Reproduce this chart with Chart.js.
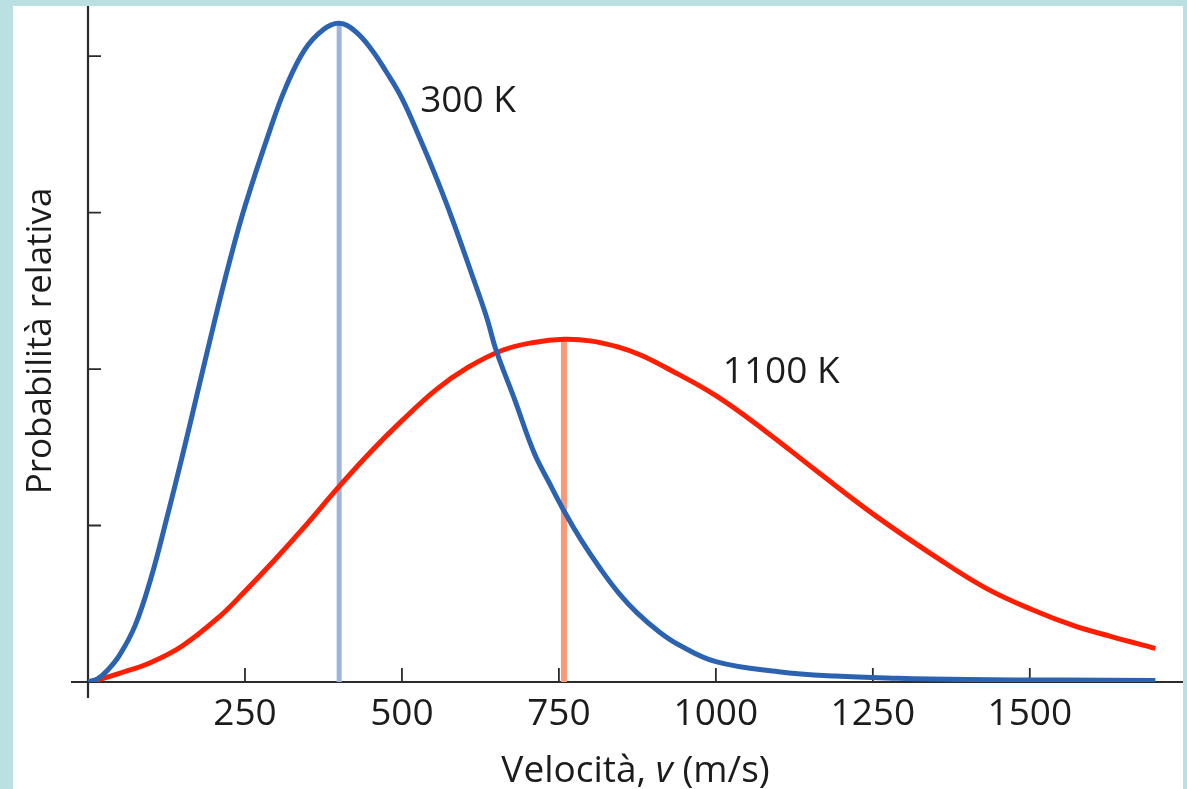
<!DOCTYPE html>
<html lang="it">
<head>
<meta charset="utf-8">
<title>Distribuzione delle velocità molecolari</title>
<script src="https://cdn.jsdelivr.net/npm/chart.js@4.4.1/dist/chart.umd.min.js"></script>
<style>
  html, body { margin: 0; padding: 0; background: #BBE0E3; }
  #wrap { width: 1187px; height: 789px; }
  canvas { display: block; }
</style>
</head>
<body>
<div id="wrap"><canvas id="chart" width="1187" height="789"></canvas></div>
<script>
// Speed distribution at 300 K (m/s → relative probability)
const speed300 = [0, 15, 30, 50, 75, 100, 125, 150, 175, 200, 225, 250, 290, 315, 345, 375, 400,
  425, 450, 475, 500, 530, 555, 580, 610, 635, 650, 680, 710, 735, 760, 785, 815, 845, 875, 910, 940,
  1000, 1100, 1190, 1290, 1400, 1550, 1700];
const prob300 = [0, 0.02, 0.07, 0.17, 0.36, 0.66, 1.04, 1.44, 1.86, 2.28, 2.68, 3.04, 3.53, 3.80, 4.04, 4.17, 4.21,
  4.16, 4.05, 3.90, 3.73, 3.46, 3.22, 2.96, 2.62, 2.33, 2.12, 1.80, 1.47, 1.27, 1.08, 0.91, 0.73, 0.57, 0.44, 0.32, 0.24,
  0.13, 0.066, 0.038, 0.024, 0.016, 0.012, 0.01];

// Speed distribution at 1100 K
const speed1100 = [0, 15, 50, 100, 150, 210, 250, 295, 340, 400, 450, 500, 555, 605, 660, 710, 758,
  800, 845, 880, 920, 1000, 1080, 1160, 1255, 1350, 1430, 1505, 1570, 1630, 1700];
const prob1100 = [0, 0.013, 0.055, 0.125, 0.23, 0.42, 0.58, 0.77, 0.97, 1.25, 1.47, 1.67, 1.87, 2.01, 2.12, 2.17, 2.19,
  2.18, 2.14, 2.09, 2.01, 1.83, 1.60, 1.35, 1.06, 0.80, 0.60, 0.46, 0.36, 0.29, 0.215];

// Most probable speed of each distribution and its height
const peakSpeed = [400, 758];
const peakProb = [4.21, 2.19];

// Axis ticks
const xTickValues = [250, 500, 750, 1000, 1250, 1500];
const yTickValues = [1, 2, 3, 4];

// Curve labels
const curveLabels = ['300 K', '1100 K'];
const labelSpeed = [529, 1011];
const labelProb = [3.64, 1.91];

const FONT = '"Open Sans", "Noto Sans", sans-serif';
const FONT_SIZE = 37;
const INK = '#1c1c1c';
const AXIS = '#2b2b2b';

const toPoints = (xs, ys) => xs.map((x, i) => ({ x, y: ys[i] }));

// White panel on the tinted background
const panelPlugin = {
  id: 'panel',
  beforeDraw(chart) {
    const ctx = chart.ctx;
    ctx.save();
    ctx.fillStyle = '#BBE0E3';
    ctx.fillRect(0, 0, chart.width, chart.height);
    ctx.fillStyle = '#ffffff';
    ctx.fillRect(13, 6, 1170, chart.height - 6);
    ctx.restore();
  }
};

// Axis lines with inward tick marks
const axesPlugin = {
  id: 'axesLines',
  beforeDatasetsDraw(chart) {
    const { ctx, chartArea: a, scales: { x, y } } = chart;
    ctx.save();
    ctx.strokeStyle = AXIS;
    ctx.lineWidth = 2.2;
    ctx.lineCap = 'butt';
    const x0 = x.getPixelForValue(0);
    const y0 = y.getPixelForValue(0);
    ctx.beginPath();
    ctx.moveTo(x0, a.top);
    ctx.lineTo(x0, y0 + 16);
    ctx.moveTo(x0 - 17, y0);
    ctx.lineTo(a.right, y0);
    ctx.stroke();
    ctx.lineWidth = 1.8;
    ctx.beginPath();
    xTickValues.forEach(v => {
      const px = x.getPixelForValue(v);
      ctx.moveTo(px, y0);
      ctx.lineTo(px, y0 - 14);
    });
    yTickValues.forEach(v => {
      const py = y.getPixelForValue(v);
      ctx.moveTo(x0, py);
      ctx.lineTo(x0 + 13, py);
    });
    ctx.stroke();
    ctx.restore();
  }
};

// Axis titles and curve labels
const textPlugin = {
  id: 'texts',
  afterDraw(chart) {
    const { ctx, chartArea: a, scales: { x, y } } = chart;
    ctx.save();
    ctx.fillStyle = INK;
    ctx.textBaseline = 'alphabetic';

    // x-axis title with italic symbol
    const parts = [
      { t: 'Velocità, ', f: `${FONT_SIZE}px ${FONT}` },
      { t: 'v', f: `italic ${FONT_SIZE}px ${FONT}` },
      { t: ' (m/s)', f: `${FONT_SIZE}px ${FONT}` }
    ];
    let total = 0;
    parts.forEach(p => { ctx.font = p.f; p.w = ctx.measureText(p.t).width; total += p.w; });
    let cx = (a.left + a.right) / 2 - total / 2;
    ctx.textAlign = 'left';
    parts.forEach(p => { ctx.font = p.f; ctx.fillText(p.t, cx, 782); cx += p.w; });

    // y-axis title
    ctx.save();
    ctx.font = `35px ${FONT}`;
    ctx.translate(51, (a.top + a.bottom) / 2 - 3);
    ctx.rotate(-Math.PI / 2);
    ctx.textAlign = 'center';
    ctx.fillText('Probabilità relativa', 0, 0);
    ctx.restore();

    // curve labels
    ctx.font = `${FONT_SIZE}px ${FONT}`;
    ctx.textAlign = 'left';
    curveLabels.forEach((txt, i) => {
      ctx.fillText(txt, x.getPixelForValue(labelSpeed[i]), y.getPixelForValue(labelProb[i]));
    });
    ctx.restore();
  }
};

new Chart(document.getElementById('chart'), {
  type: 'line',
  data: {
    datasets: [
      {
        label: '300 K',
        data: toPoints(speed300, prob300),
        borderColor: '#2C63B0',
        borderWidth: 5,
        pointRadius: 0,
        tension: 0.4,
        fill: false,
        order: 0
      },
      {
        label: '1100 K',
        data: toPoints(speed1100, prob1100),
        borderColor: '#FF1E00',
        borderWidth: 5,
        pointRadius: 0,
        tension: 0.4,
        fill: false,
        order: 1
      },
      {
        label: 'v max 300 K',
        data: [{ x: peakSpeed[0], y: 0 }, { x: peakSpeed[0], y: peakProb[0] }],
        borderColor: '#9FB4DC',
        borderWidth: 5,
        pointRadius: 0,
        borderCapStyle: 'butt',
        order: 2
      },
      {
        label: 'v max 1100 K',
        data: [{ x: peakSpeed[1], y: 0 }, { x: peakSpeed[1], y: peakProb[1] }],
        borderColor: '#FA9878',
        borderWidth: 6,
        pointRadius: 0,
        borderCapStyle: 'butt',
        order: 3
      }
    ]
  },
  options: {
    responsive: false,
    animation: false,
    devicePixelRatio: 1,
    layout: { padding: { left: 0, right: 4, top: 6, bottom: 0 } },
    plugins: {
      legend: { display: false },
      tooltip: { enabled: false }
    },
    scales: {
      x: {
        type: 'linear',
        min: 0,
        max: 1744,
        afterBuildTicks: s => { s.ticks = xTickValues.map(v => ({ value: v })); },
        afterFit: s => { s.height = 107; },
        grid: { display: false, drawTicks: false },
        border: { display: false },
        ticks: {
          color: INK,
          font: { family: FONT, size: FONT_SIZE },
          padding: 10,
          maxRotation: 0,
          autoSkip: false,
          callback: v => String(v)
        }
      },
      y: {
        type: 'linear',
        min: 0,
        max: 4.32,
        afterBuildTicks: s => { s.ticks = yTickValues.map(v => ({ value: v })); },
        afterFit: s => { s.width = 88; },
        grid: { display: false, drawTicks: false },
        border: { display: false },
        ticks: { display: false }
      }
    }
  },
  plugins: [panelPlugin, axesPlugin, textPlugin]
});
</script>
</body>
</html>
